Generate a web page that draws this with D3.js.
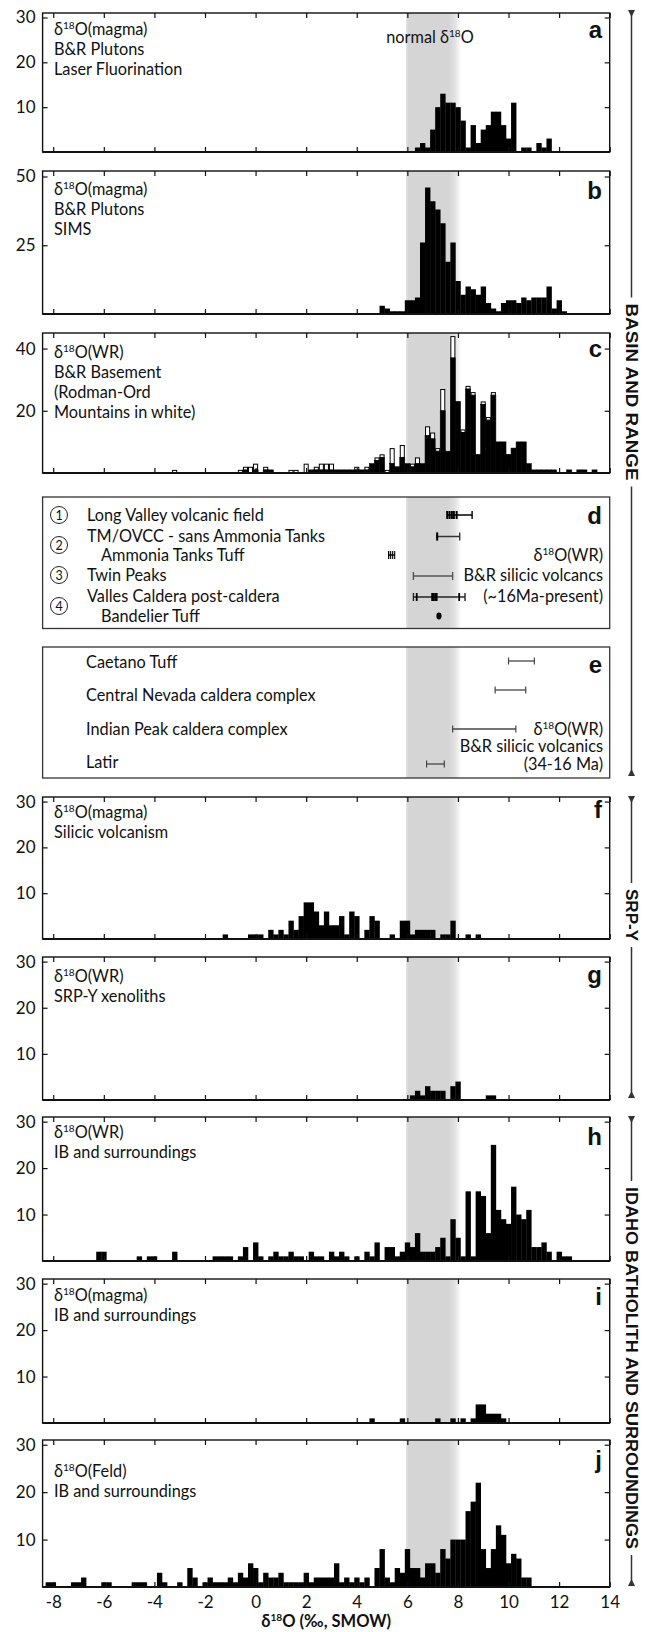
<!DOCTYPE html>
<html><head><meta charset="utf-8">
<script src="https://cdn.jsdelivr.net/npm/d3@7"></script>
<style>body{margin:0;background:#fff}svg{display:block}</style>
</head><body>
<svg id="chart" width="645" height="1632"></svg>
<script>
// ---------------- DATA ----------------
const BIN = 0.2;
const xTicks = [-8,-6,-4,-2,0,2,4,6,8,10,12,14];
const normalBand = [5.95, 8.1];

// [bin left edge (‰), count]
const histA = [[6.3,1],[6.5,2],[6.7,1],[6.9,5],[7.1,10],[7.3,13],[7.5,11],[7.7,11],[7.9,10],[8.1,7],[8.3,1],[8.5,6],[8.7,2],[8.9,5],[9.1,6],[9.3,9],[9.5,9],[9.7,6],[9.9,3],[10.1,11],[10.5,1],[10.7,1],[11.1,2],[11.3,1],[11.5,3]];
const histB = [[4.9,3],[5.1,2],[5.3,1],[5.5,1],[5.7,1],[5.9,5],[6.1,5],[6.3,6],[6.5,26],[6.7,46],[6.9,41],[7.1,38],[7.3,33],[7.5,19],[7.7,26],[7.9,12],[8.1,7],[8.3,10],[8.5,9],[8.7,7],[8.9,10],[9.1,4],[9.3,2],[9.5,1],[9.7,4],[9.9,5],[10.1,5],[10.3,4],[10.5,6],[10.7,5],[10.9,6],[11.1,6],[11.3,6],[11.5,10],[11.7,2],[11.9,5],[12.1,1]];
// panel c: black = B&R basement, white = Rodman-Ord (stacked on top)
const histCBlack = [[-0.5,1],[-0.1,1],[0.3,1],[0.5,1],[2.1,1],[2.3,1],[2.5,1],[2.7,1],[2.9,1],[3.1,1],[3.3,1],[3.5,1],[3.7,1],[3.9,1],[4.1,1],[4.3,1],[4.5,3],[4.7,4],[4.9,5],[5.3,3],[5.5,2],[5.7,5],[5.9,3],[6.1,2],[6.3,3],[6.5,3],[6.7,12],[6.9,11],[7.1,7],[7.3,20],[7.5,7],[7.7,37],[7.9,23],[8.1,13],[8.3,27],[8.5,25],[8.7,6],[8.9,22],[9.1,17],[9.3,25],[9.5,10],[9.7,10],[9.9,6],[10.1,8],[10.3,10],[10.5,10],[10.7,3],[10.9,1],[11.1,1],[11.3,1],[11.5,1],[11.7,1],[12.3,1],[12.7,1],[12.9,1],[13.3,1]];
const histCWhite = [[-3.3,1],[-0.7,1],[-0.5,1],[-0.3,2],[-0.1,2],[0.3,1],[1.3,1],[1.5,1],[1.9,3],[2.3,1],[2.5,2],[2.7,2],[2.9,2],[3.9,1],[4.3,1],[4.7,1],[4.9,1],[5.1,1],[5.3,5],[5.7,4],[6.1,1],[6.3,2],[6.7,3],[6.9,2],[7.1,1],[7.3,7],[7.7,7],[8.1,1],[8.3,1],[8.5,1],[8.9,1],[9.1,1],[9.3,1]];
const histF = [[-1.3,1],[-0.3,1],[-0.1,1],[0.1,1],[0.5,2],[0.7,1],[0.9,2],[1.1,1],[1.3,4],[1.5,2],[1.7,5],[1.9,8],[2.1,8],[2.3,6],[2.5,3],[2.7,6],[2.9,3],[3.1,3],[3.3,5],[3.5,1],[3.7,6],[3.9,5],[4.3,2],[4.5,5],[4.7,4],[5.3,1],[5.7,4],[5.9,4],[6.1,1],[6.3,2],[6.5,2],[6.7,2],[6.9,2],[7.3,1],[7.5,1],[7.7,4],[8.3,1],[8.7,1]];
const histG = [[6.1,1],[6.3,2],[6.5,1],[6.7,3],[6.9,2],[7.1,2],[7.3,2],[7.7,3],[7.9,4],[9.1,1],[9.3,1]];
const histH = [[-6.3,2],[-6.1,2],[-4.7,1],[-4.3,1],[-4.1,1],[-3.3,2],[-1.7,1],[-1.5,1],[-1.3,1],[-1.1,1],[-0.7,1],[-0.5,3],[-0.1,4],[0.1,1],[0.5,1],[0.7,2],[0.9,1],[1.1,1],[1.3,2],[1.5,1],[1.7,1],[2.1,2],[2.3,1],[2.5,1],[2.9,2],[3.1,1],[3.3,2],[3.5,1],[3.9,1],[4.3,2],[4.5,1],[4.7,4],[5.1,3],[5.3,3],[5.5,1],[5.7,2],[5.9,4],[6.1,3],[6.3,6],[6.5,2],[6.7,2],[6.9,2],[7.1,3],[7.3,5],[7.5,1],[7.7,9],[7.9,5],[8.1,1],[8.3,15],[8.5,1],[8.7,15],[8.9,14],[9.1,6],[9.3,25],[9.5,11],[9.7,9],[9.9,8],[10.1,16],[10.3,10],[10.5,9],[10.7,11],[10.9,3],[11.1,3],[11.3,4],[11.5,2],[11.9,2],[12.1,1],[12.3,1]];
const histI = [[4.5,1],[5.7,1],[7.1,1],[7.7,1],[8.1,1],[8.5,1],[8.7,4],[8.9,4],[9.1,2],[9.3,2],[9.5,2],[9.7,1]];
const histJ = [[-8.3,1],[-8.1,1],[-7.3,1],[-7.1,1],[-6.9,2],[-6.1,1],[-5.9,1],[-4.9,1],[-4.7,1],[-4.5,1],[-3.9,3],[-3.7,1],[-3.1,1],[-2.7,4],[-2.5,2],[-2.1,1],[-1.9,2],[-1.7,1],[-1.5,1],[-1.3,1],[-1.1,2],[-0.9,1],[-0.7,3],[-0.5,2],[-0.3,5],[-0.1,4],[0.1,1],[0.3,3],[0.5,2],[0.7,2],[0.9,3],[1.1,1],[1.3,1],[1.5,1],[1.7,1],[1.9,3],[2.1,1],[2.3,2],[2.5,2],[2.7,2],[2.9,2],[3.1,5],[3.3,1],[3.5,2],[3.7,1],[3.9,2],[4.1,1],[4.3,2],[4.7,4],[4.9,8],[5.1,2],[5.3,1],[5.5,4],[5.7,3],[5.9,8],[6.1,4],[6.3,4],[6.5,2],[6.7,5],[6.9,5],[7.1,3],[7.3,8],[7.5,6],[7.7,10],[7.9,10],[8.1,10],[8.3,16],[8.5,18],[8.7,22],[8.9,8],[9.1,4],[9.3,8],[9.5,13],[9.7,11],[9.9,5],[10.1,7],[10.3,6],[10.5,2],[10.7,2]];

// panel d (range bars, ‰)
const dLabels = ["Long Valley volcanic field","TM/OVCC  - sans Ammonia Tanks","Ammonia Tanks Tuff","Twin Peaks","Valles Caldera post-caldera","Bandelier Tuff"];
const dRanges = [[7.58,8.56],[7.18,8.07],[5.26,5.5],[6.24,7.79],[6.24,8.28]];
const dMarkers = [[7.58,7.67,7.76,7.84,7.95],[7.18],[5.26,5.34,5.42],[],[6.37,6.98,7.04,7.1,7.16,8.05]];
const dPoint = [7.25];
// panel e
const eLabels = ["Caetano Tuff","Central Nevada caldera complex","Indian Peak caldera complex","Latir"];
const eRanges = [[10.0,11.02],[9.47,10.68],[7.79,10.29],[6.76,7.46]];

// ---------------- LAYOUT ----------------
const FONT = "Lato, 'Open Sans', 'DejaVu Sans', sans-serif";
const svg = d3.select("#chart");
const x = d3.scaleLinear().domain([-8.42, 14]).range([42.6, 609.7]);
const L = x.range()[0], R = x.range()[1];
const INK = "#111";

const defs = svg.append("defs");
const grad = defs.append("linearGradient").attr("id","bandGrad").attr("x1","0").attr("x2","1").attr("y1","0").attr("y2","0");
[[0,"#e4e4e4"],[0.04,"#d5d5d5"],[0.78,"#d5d5d5"],[0.9,"#e2e2e2"],[1,"#fbfbfb"]].forEach(([o,c])=>grad.append("stop").attr("offset",o).attr("stop-color",c));

function addText(g, px, cy, str, o={}) {
  const size = o.size || 16.3;
  const t = g.append("text").attr("x", px).attr("y", cy + size*0.35)
    .attr("font-size", size).attr("font-family", o.family || FONT)
    .attr("font-weight", o.weight || "normal").attr("text-anchor", o.anchor || "start").attr("fill", INK);
  const idx = str.indexOf("δ18O");
  if (idx < 0) { t.text(str); return t; }
  const pre = str.slice(0, idx), post = str.slice(idx + 4);
  if (pre) t.append("tspan").text(pre);
  t.append("tspan").text("δ");
  t.append("tspan").attr("dy", -size*0.36).attr("font-size", size*0.62).text("18");
  t.append("tspan").attr("dy", size*0.36).text("O" + post);
  return t;
}

function band(g, top, bottom) {
  g.append("rect").attr("x", x(normalBand[0])).attr("width", x(normalBand[1]) - x(normalBand[0]))
    .attr("y", top).attr("height", bottom - top).attr("fill", "url(#bandGrad)");
}

function letter(g, s, cy) {
  g.append("text").attr("x", 602).attr("y", cy + 8).attr("text-anchor","end")
    .attr("font-family","'Liberation Sans', Arial, sans-serif").attr("font-weight","bold")
    .attr("font-size", 24).attr("fill", INK).text(s);
}

const panels = [
  {id:"a", top:13, bottom:152, ymax:31, yTicks:[10,20,30], data:histA, lines:["δ18O(magma)","B&R Plutons","Laser Fluorination"], lineY:29, letterY:30},
  {id:"b", top:171, bottom:314, ymax:52, yTicks:[25,50], data:histB, lines:["δ18O(magma)","B&R Plutons","SIMS"], lineY:189, letterY:191},
  {id:"c", top:333, bottom:473, ymax:45, yTicks:[20,40], data:histCBlack, white:histCWhite, lines:["δ18O(WR)","B&R Basement","(Rodman-Ord","Mountains in white)"], lineY:352, letterY:349},
  {id:"f", top:797, bottom:939, ymax:31, yTicks:[10,20,30], data:histF, lines:["δ18O(magma)","Silicic volcanism"], lineY:812, letterY:810},
  {id:"g", top:957, bottom:1100, ymax:31, yTicks:[10,20,30], data:histG, lines:["δ18O(WR)","SRP-Y xenoliths"], lineY:976, letterY:975},
  {id:"h", top:1117, bottom:1261, ymax:31, yTicks:[10,20,30], data:histH, lines:["δ18O(WR)","IB and surroundings"], lineY:1132, letterY:1137},
  {id:"i", top:1279, bottom:1423, ymax:31, yTicks:[10,20,30], data:histI, lines:["δ18O(magma)","IB and surroundings"], lineY:1295, letterY:1297},
  {id:"j", top:1440, bottom:1587, ymax:31, yTicks:[10,20,30], data:histJ, lines:["δ18O(Feld)","IB and surroundings"], lineY:1471, letterY:1460, xLabels:true}
];

panels.forEach(p => {
  const g = svg.append("g").attr("class","panel-"+p.id);
  const y = d3.scaleLinear().domain([0, p.ymax]).range([p.bottom, p.top]);
  band(g, p.top, p.bottom);
  const bw = d => x(d[0] + BIN) - x(d[0]);
  if (p.white) {
    const blackMap = new Map(p.data.map(d => [d[0], d[1]]));
    g.selectAll("rect.bar").data(p.data).join("rect").attr("class","bar")
      .attr("x", d => x(d[0])).attr("width", bw).attr("y", d => y(d[1])).attr("height", d => y(0) - y(d[1]))
      .attr("fill","#000").attr("stroke","#000").attr("stroke-width",0.6);
    g.selectAll("rect.wbar").data(p.white).join("rect").attr("class","wbar")
      .attr("x", d => x(d[0]) + 0.5).attr("width", d => bw(d) - 1)
      .attr("y", d => y((blackMap.get(d[0]) || 0) + d[1]) + 0.5)
      .attr("height", d => y(blackMap.get(d[0]) || 0) - y((blackMap.get(d[0]) || 0) + d[1]) - 0.5)
      .attr("fill","#fff").attr("stroke","#000").attr("stroke-width",1);
  } else {
    g.selectAll("rect.bar").data(p.data).join("rect").attr("class","bar")
      .attr("x", d => x(d[0])).attr("width", d => bw(d) + 0.3).attr("y", d => y(d[1])).attr("height", d => y(0) - y(d[1]))
      .attr("fill","#000");
  }
  // axes (inward ticks)
  const axL = g.append("g").attr("transform",`translate(${L},0)`)
    .call(d3.axisLeft(y).tickValues(p.yTicks).tickSize(-5).tickPadding(7).tickFormat(d => String(d)));
  axL.selectAll("text").attr("font-family", FONT).attr("font-size", 17).attr("fill", INK);
  const axR = g.append("g").attr("transform",`translate(${R},0)`)
    .call(d3.axisRight(y).tickValues(p.yTicks).tickSize(-5).tickFormat(""));
  const axT = g.append("g").attr("transform",`translate(0,${p.top})`)
    .call(d3.axisTop(x).tickValues(xTicks).tickSize(-5).tickFormat(""));
  const axB = g.append("g").attr("transform",`translate(0,${p.bottom})`)
    .call(d3.axisBottom(x).tickValues(xTicks).tickSize(-5).tickPadding(9)
      .tickFormat(p.xLabels ? (d => String(d)) : ""));
  axB.selectAll("text").attr("font-family", FONT).attr("font-size", 17).attr("fill", INK);
  [axL, axR, axT, axB].forEach(a => { a.select(".domain").remove(); a.selectAll("line").attr("stroke", INK).attr("stroke-width", 1.2); });
  // frame
  g.append("rect").attr("x", L).attr("y", p.top).attr("width", R - L).attr("height", p.bottom - p.top)
    .attr("fill","none").attr("stroke", INK).attr("stroke-width", 1.4);
  g.append("line").attr("x1", L).attr("x2", R).attr("y1", p.bottom).attr("y2", p.bottom)
    .attr("stroke", INK).attr("stroke-width", 2.2);
  // labels
  p.lines.forEach((s, i) => addText(g, 54, p.lineY + i * 20, s));
  letter(g, p.id, p.letterY);
});

// "normal δ18O"
addText(svg, 430, 37, "normal δ18O", {anchor:"middle"});

// x-axis title
addText(svg, (L + R) / 2, 1621, "δ18O (‰, SMOW)", {anchor:"middle", weight:"bold", size:16.5});

// ---------- panel d ----------
(function(){
  const top = 497, bottom = 628.5;
  const g = svg.append("g").attr("class","panel-d");
  band(g, top, bottom);
  g.append("rect").attr("x", L).attr("y", top).attr("width", R - L).attr("height", bottom - top)
    .attr("fill","none").attr("stroke","#333").attr("stroke-width",1.3);
  const rowY = [515, 536.5, 555, 575, 596.5, 616];
  const rowX = [87, 87, 101, 87, 87, 101];
  dLabels.forEach((s, i) => addText(g, rowX[i], rowY[i], s));
  const circY = [515, 545, 575, 606];
  circY.forEach((cy, i) => {
    g.append("circle").attr("cx", 59).attr("cy", cy).attr("r", 8.5).attr("fill","none").attr("stroke","#222").attr("stroke-width",1);
    g.append("text").attr("x", 59).attr("y", cy + 4.5).attr("text-anchor","middle").attr("font-family",FONT).attr("font-size",12.5).attr("fill",INK).text(i + 1);
  });
  ["δ18O(WR)","B&R silicic volcancs","(~16Ma-present)"].forEach((s, i) => addText(g, 603, [555, 575, 596.5][i], s, {anchor:"end"}));
  letter(g, "d", 516);
  const barY = [515, 536.5, 555, 576, 597];
  const barCol = ["#000", "#333", "#000", "#555", "#222"];
  const mkW = [2, 2, 1.1, 1.2, 1.8];
  dRanges.forEach((r, i) => {
    const yy = barY[i];
    g.append("line").attr("x1", x(r[0])).attr("x2", x(r[1])).attr("y1", yy).attr("y2", yy)
      .attr("stroke", barCol[i]).attr("stroke-width", i === 3 ? 1.3 : 1.5);
    [r[0], r[1]].forEach(v => g.append("line").attr("x1", x(v)).attr("x2", x(v)).attr("y1", yy - 4).attr("y2", yy + 4)
      .attr("stroke", barCol[i]).attr("stroke-width", i === 2 ? 1.1 : 1.4));
    dMarkers[i].forEach(v => g.append("line").attr("x1", x(v)).attr("x2", x(v)).attr("y1", yy - 4).attr("y2", yy + 4)
      .attr("stroke", "#000").attr("stroke-width", mkW[i]));
  });
  g.selectAll("ellipse").data(dPoint).join("ellipse").attr("cx", d => x(d)).attr("cy", 616).attr("rx", 2.6).attr("ry", 3.4).attr("fill","#000");
})();

// ---------- panel e ----------
(function(){
  const top = 647, bottom = 778;
  const g = svg.append("g").attr("class","panel-e");
  band(g, top, bottom);
  g.append("rect").attr("x", L).attr("y", top).attr("width", R - L).attr("height", bottom - top)
    .attr("fill","none").attr("stroke","#333").attr("stroke-width",1.3);
  const rowY = [662, 695.5, 729, 762.5];
  eLabels.forEach((s, i) => addText(g, 86, rowY[i], s));
  ["δ18O(WR)","B&R silicic volcanics","(34-16 Ma)"].forEach((s, i) => addText(g, 603, [729, 746.5, 764][i], s, {anchor:"end"}));
  letter(g, "e", 665);
  const barY = [661, 690, 729, 764];
  eRanges.forEach((r, i) => {
    const yy = barY[i];
    g.append("line").attr("x1", x(r[0])).attr("x2", x(r[1])).attr("y1", yy).attr("y2", yy).attr("stroke","#444").attr("stroke-width",1.3);
    [r[0], r[1]].forEach(v => g.append("line").attr("x1", x(v)).attr("x2", x(v)).attr("y1", yy - 3.5).attr("y2", yy + 3.5).attr("stroke","#444").attr("stroke-width",1.2));
  });
})();

// ---------- right-hand brackets ----------
const sections = [
  {label:"BASIN AND RANGE", top:10, bottom:776, mid:392, len:177},
  {label:"SRP-Y", top:796, bottom:1098, mid:915, len:52},
  {label:"IDAHO BATHOLITH AND SURROUNDINGS", top:1116, bottom:1586, mid:1368, len:362}
];
const bx = 631.5;
sections.forEach(s => {
  const g = svg.append("g");
  g.append("line").attr("x1", bx).attr("x2", bx).attr("y1", s.top).attr("y2", s.mid - s.len/2 - 6).attr("stroke","#333").attr("stroke-width",1.5);
  g.append("line").attr("x1", bx).attr("x2", bx).attr("y1", s.mid + s.len/2 + 6).attr("y2", s.bottom).attr("stroke","#333").attr("stroke-width",1.5);
  g.append("path").attr("d", `M${bx-3.5},${s.top}L${bx+3.5},${s.top}L${bx},${s.top+7}Z`).attr("fill","#333");
  g.append("path").attr("d", `M${bx-3.5},${s.bottom}L${bx+3.5},${s.bottom}L${bx},${s.bottom-7}Z`).attr("fill","#333");
  g.append("text").attr("transform", `translate(${bx},${s.mid}) rotate(90)`)
    .attr("y", 6).attr("text-anchor","middle").attr("font-family","'Liberation Sans', Arial, sans-serif")
    .attr("font-weight","bold").attr("font-size", 17).attr("fill", INK)
    .attr("textLength", s.len).attr("lengthAdjust","spacingAndGlyphs").text(s.label);
});
</script>
</body></html>
